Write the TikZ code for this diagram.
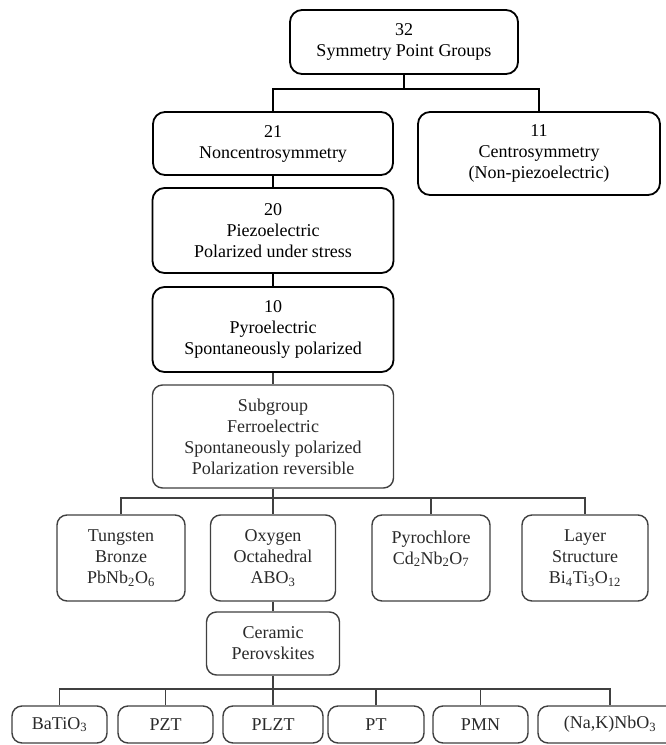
\documentclass[tikz,border=0pt]{standalone}
\usepackage{fontspec}
\setmainfont{Liberation Serif}
\definecolor{lowc}{HTML}{404040}
\definecolor{lowtext}{HTML}{2A2A2A}
\begin{document}
\begin{tikzpicture}[x=1pt,y=-1pt,
  topbox/.style={draw=black, line width=1.8pt, rounded corners=12pt, align=center, inner sep=0pt, text=black, font=\fontsize{18}{21}\selectfont},
  lowbox/.style={draw=lowc, line width=1.4pt, rounded corners=10pt, align=center, inner sep=0pt, text=lowtext, font=\fontsize{18}{21}\selectfont},
  topline/.style={draw=black, line width=1.8pt},
  lowline/.style={draw=lowc, line width=1.4pt}]
\useasboundingbox[fill=white] (0,0) rectangle (665,745);

% top part
\node[topbox, minimum width=228, minimum height=64] (g32) at (404,42) {32\\Symmetry Point Groups};
\node[topbox, minimum width=240, minimum height=63] (n21) at (273,143.5) {21\\Noncentrosymmetry};
\node[topbox, minimum width=242, minimum height=83] (n11) at (539,153.5) {11\\Centrosymmetry\\(Non-piezoelectric)};
\node[topbox, minimum width=241, minimum height=85] (n20) at (273,230.5) {20\\Piezoelectric\\Polarized under stress};
\node[topbox, minimum width=241, minimum height=85] (n10) at (273,329.5) {10\\Pyroelectric\\Spontaneously polarized};

% lower part
\node[lowbox, minimum width=241, minimum height=103] (sub) at (273,436.5) {Subgroup\\Ferroelectric\\Spontaneously polarized\\Polarization reversible};
\node[lowbox, minimum width=128, minimum height=86] (tung) at (121,558) {Tungsten\\Bronze\\PbNb\textsubscript{2}O\textsubscript{6}};
\node[lowbox, minimum width=125, minimum height=86] (oxy) at (273,558) {Oxygen\\Octahedral\\ABO\textsubscript{3}};
\node[lowbox, minimum width=118, minimum height=86] (pyro) at (431,558) {Pyrochlore\\Cd\textsubscript{2}Nb\textsubscript{2}O\textsubscript{7}\\\mbox{}};
\node[lowbox, minimum width=126, minimum height=86] (layer) at (585,558) {Layer\\Structure\\Bi\textsubscript{4}Ti\textsubscript{3}O\textsubscript{12}};
\node[lowbox, minimum width=133, minimum height=63] (cer) at (273,643.5) {Ceramic\\Perovskites};

\node[lowbox, minimum width=95, minimum height=37] (bat) at (59.5,724.5) {BaTiO\textsubscript{3}};
\node[lowbox, minimum width=95, minimum height=37] (pzt) at (165.5,724.5) {PZT};
\node[lowbox, minimum width=100, minimum height=37] (plzt) at (273,724.5) {PLZT};
\node[lowbox, minimum width=96, minimum height=37] (pt) at (376,724.5) {PT};
\node[lowbox, minimum width=95, minimum height=37] (pmn) at (480.5,724.5) {PMN};
\node[lowbox, minimum width=144, minimum height=37] (nak) at (610,724.5) {(Na,K)NbO\textsubscript{3}};

% connectors
\coordinate (j1) at (404,89);
\draw[topline] (g32.south) -- (j1);
\draw[topline] (n21.north) |- (j1) -| (n11.north);
\draw[topline] (n21.south) -- (n20.north);
\draw[topline] (n20.south) -- (n10.north);
\draw[lowline] (n10.south) -- (sub.north);

\coordinate (j2) at (273,498);
\draw[lowline] (sub.south) -- (oxy.north);
\draw[lowline] (tung.north) |- (j2) -| (layer.north);
\draw[lowline] (pyro.north) -- (pyro.north |- j2);
\draw[lowline] (oxy.south) -- (cer.north);

\coordinate (j3) at (273,689);
\draw[lowline] (cer.south) -- (plzt.north);
\draw[lowline] (bat.north) |- (j3) -| (nak.north);
\draw[lowline] (pzt.north) -- (pzt.north |- j3);
\draw[lowline] (pt.north) -- (pt.north |- j3);
\draw[lowline] (pmn.north) -- (pmn.north |- j3);
\end{tikzpicture}
\end{document}
